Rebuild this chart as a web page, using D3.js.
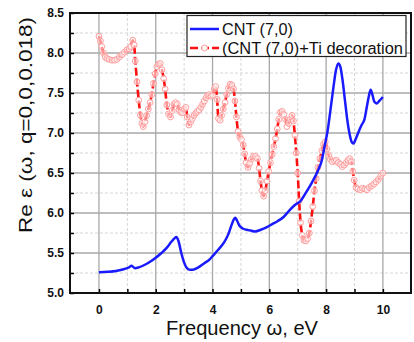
<!DOCTYPE html>
<html><head><meta charset="utf-8">
<script src="https://cdn.jsdelivr.net/npm/d3@7"></script>
<style>body{margin:0;background:#fff}svg{display:block}text{font-family:"Liberation Sans",Arial,sans-serif}</style>
</head><body><svg id="c" width="414" height="342"></svg>
<script>
// Data
const seriesNames = ["CNT (7,0)", "(CNT (7,0)+Ti decoration"];
const cntOmega = [0.00,0.3,0.6,0.9,1.05,1.15,1.27,1.4,1.6,1.8,2.0,2.2,2.4,2.55,2.65,2.73,2.80,2.90,3.00,3.10,3.2,3.3,3.5,3.7,3.9,4.0,4.2,4.4,4.55,4.65,4.75,4.80,4.87,4.95,5.05,5.2,5.35,5.5,5.7,5.9,6.1,6.3,6.5,6.7,6.9,7.1,7.3,7.5,7.7,7.85,7.95,8.05,8.15,8.25,8.35,8.43,8.50,8.58,8.66,8.74,8.82,8.90,8.96,9.05,9.15,9.25,9.35,9.43,9.50,9.57,9.63,9.70,9.78,9.87,10.00];
const cntValues = [5.26,5.265,5.275,5.30,5.32,5.34,5.31,5.32,5.35,5.39,5.44,5.50,5.57,5.64,5.68,5.70,5.65,5.50,5.38,5.31,5.29,5.29,5.32,5.37,5.42,5.46,5.54,5.63,5.73,5.83,5.92,5.94,5.90,5.84,5.81,5.79,5.78,5.77,5.79,5.82,5.86,5.90,5.95,6.03,6.10,6.15,6.26,6.38,6.52,6.66,6.84,7.02,7.28,7.55,7.79,7.87,7.83,7.66,7.42,7.18,7.00,6.89,6.87,6.93,7.02,7.10,7.17,7.32,7.45,7.54,7.48,7.39,7.37,7.40,7.45];
const tiOmega = [0.00,0.05,0.10,0.16,0.22,0.28,0.36,0.46,0.55,0.63,0.72,0.81,0.90,0.99,1.06,1.12,1.19,1.24,1.28,1.34,1.40,1.46,1.51,1.56,1.62,1.68,1.74,1.80,1.86,1.92,1.98,2.04,2.10,2.16,2.22,2.28,2.33,2.39,2.45,2.52,2.58,2.64,2.70,2.76,2.82,2.88,2.94,3.00,3.06,3.11,3.17,3.23,3.29,3.35,3.41,3.47,3.53,3.59,3.65,3.71,3.77,3.83,3.89,3.95,4.01,4.06,4.11,4.16,4.21,4.27,4.32,4.38,4.44,4.50,4.56,4.62,4.68,4.74,4.79,4.84,4.90,4.96,5.02,5.08,5.13,5.18,5.25,5.31,5.37,5.44,5.51,5.58,5.64,5.69,5.74,5.80,5.86,5.92,5.98,6.04,6.10,6.16,6.22,6.28,6.33,6.39,6.45,6.51,6.57,6.62,6.68,6.74,6.80,6.85,6.90,6.95,7.00,7.05,7.10,7.16,7.22,7.28,7.35,7.41,7.47,7.53,7.59,7.65,7.71,7.78,7.85,7.91,7.97,8.03,8.09,8.15,8.22,8.30,8.36,8.43,8.50,8.57,8.64,8.71,8.77,8.83,8.89,8.94,8.99,9.05,9.12,9.20,9.28,9.36,9.44,9.52,9.60,9.68,9.76,9.84,9.92,10.00];
const tiValues = [8.21,8.15,8.08,8.00,7.95,7.93,7.92,7.91,7.91,7.92,7.95,7.98,8.01,8.04,8.05,8.08,8.16,8.10,7.90,7.64,7.41,7.22,7.12,7.08,7.14,7.22,7.30,7.38,7.48,7.62,7.74,7.83,7.86,7.87,7.79,7.68,7.55,7.35,7.24,7.20,7.28,7.36,7.38,7.36,7.29,7.26,7.25,7.30,7.32,7.20,7.10,7.14,7.18,7.22,7.25,7.27,7.29,7.32,7.36,7.40,7.44,7.47,7.48,7.46,7.47,7.55,7.58,7.42,7.18,7.16,7.22,7.30,7.38,7.48,7.56,7.61,7.60,7.55,7.40,7.20,7.02,6.95,6.92,6.85,6.74,6.63,6.57,6.62,6.67,6.71,6.71,6.68,6.56,6.40,6.28,6.21,6.28,6.40,6.52,6.63,6.73,6.83,6.93,7.05,7.17,7.26,7.27,7.23,7.17,7.08,7.12,7.17,7.22,7.15,6.97,6.75,6.50,6.15,5.88,5.72,5.66,5.65,5.68,5.75,5.90,6.08,6.28,6.43,6.57,6.68,6.78,6.86,6.89,6.80,6.72,6.67,6.64,6.65,6.66,6.63,6.61,6.58,6.60,6.63,6.66,6.68,6.64,6.52,6.41,6.32,6.30,6.29,6.31,6.30,6.29,6.32,6.34,6.36,6.39,6.42,6.46,6.50];
const xTicks = [0,2,4,6,8,10];
const xMinorTicks = [1,3,5,7,9];
const yTicks = [5.0,5.5,6.0,6.5,7.0,7.5,8.0,8.5];
const yMinorTicks = [5.25,5.75,6.25,6.75,7.25,7.75,8.25];
const xTitle = "Frequency ω, eV";
const yTitle = "Re ε (ω, q=0,0,0.018)";

const svg = d3.select("#c");
const L = 70, R = 411, T = 13, B = 293;
const x = d3.scaleLinear().domain([-1.02, 10.99]).range([L, R]);
const y = d3.scaleLinear().domain([5.0, 8.5]).range([B, T]);

// grid
const g = svg.append("g");
g.selectAll(".gxm").data(xMinorTicks).join("line")
  .attr("x1", d => x(d)).attr("x2", d => x(d)).attr("y1", T).attr("y2", B)
  .attr("stroke", "#d6d6d6").attr("stroke-width", 1).attr("stroke-dasharray", "3,2");
g.selectAll(".gym").data(yMinorTicks).join("line")
  .attr("y1", d => y(d)).attr("y2", d => y(d)).attr("x1", L).attr("x2", R)
  .attr("stroke", "#d6d6d6").attr("stroke-width", 1).attr("stroke-dasharray", "3,2");
g.selectAll(".gx").data(xTicks).join("line")
  .attr("x1", d => x(d)).attr("x2", d => x(d)).attr("y1", T).attr("y2", B)
  .attr("stroke", "#a8a8a8").attr("stroke-width", 1.3);
g.selectAll(".gy").data(yTicks).join("line")
  .attr("y1", d => y(d)).attr("y2", d => y(d)).attr("x1", L).attr("x2", R)
  .attr("stroke", "#a8a8a8").attr("stroke-width", 1.3);

// axes
const xAxis = d3.axisBottom(x).tickValues(xTicks.concat(xMinorTicks).sort((a,b)=>a-b))
  .tickSizeInner(-4).tickSizeOuter(0).tickFormat(d => xTicks.includes(d) ? d3.format("d")(d) : "");
const ax = svg.append("g").attr("transform", `translate(0,${B})`).call(xAxis);
ax.select(".domain").remove();
ax.selectAll("line").attr("stroke", "#000").attr("stroke-width", 1.5);
ax.selectAll("text").attr("y", 12).attr("font-size", 12).attr("font-weight", "bold").attr("fill", "#111")
  .style("font-family", "'Liberation Sans',Arial,sans-serif");

const yAxis = d3.axisLeft(y).tickValues(yTicks.concat(yMinorTicks).sort((a,b)=>a-b))
  .tickSizeInner(-4).tickSizeOuter(0).tickFormat(d => yTicks.includes(d) ? d3.format(".1f")(d) : "");
const ay = svg.append("g").attr("transform", `translate(${L},0)`).call(yAxis);
ay.select(".domain").remove();
ay.selectAll("line").attr("stroke", "#000").attr("stroke-width", 1.5);
ay.selectAll("text").attr("x", -6).attr("font-size", 12).attr("font-weight", "bold").attr("fill", "#111")
  .style("font-family", "'Liberation Sans',Arial,sans-serif");

// series
const cnt = cntOmega.map((w, i) => [w, cntValues[i]]);
const ti = tiOmega.map((w, i) => [w, tiValues[i]]);
const line = d3.line().x(d => x(d[0])).y(d => y(d[1])).curve(d3.curveMonotoneX);

svg.append("path").datum(ti).attr("d", line).attr("fill", "none")
  .attr("stroke", "#ff1010").attr("stroke-width", 2.6).attr("stroke-dasharray", "8,3");
svg.append("g").selectAll("circle").data(ti).join("circle")
  .attr("cx", d => x(d[0])).attr("cy", d => y(d[1])).attr("r", 2.9)
  .attr("fill", "rgba(255,255,255,0.55)").attr("stroke", "#ff9c9c").attr("stroke-width", 1);
svg.append("path").datum(cnt).attr("d", line).attr("fill", "none")
  .attr("stroke", "#1a1aff").attr("stroke-width", 2.5);

// frame
svg.append("rect").attr("x", L).attr("y", T).attr("width", R - L).attr("height", B - T)
  .attr("fill", "none").attr("stroke", "#111").attr("stroke-width", 2);

// legend
const legendWidths = [71, 181];
const lg = svg.append("g");
lg.append("rect").attr("x", 187).attr("y", 15.5).attr("width", 219).attr("height", 41)
  .attr("fill", "#fff").attr("stroke", "#222").attr("stroke-width", 1.2);
lg.append("line").attr("x1", 190).attr("x2", 219).attr("y1", 29).attr("y2", 29)
  .attr("stroke", "#1a1aff").attr("stroke-width", 2.5);
lg.append("line").attr("x1", 190).attr("x2", 219).attr("y1", 48).attr("y2", 48)
  .attr("stroke", "#ff1010").attr("stroke-width", 2.6).attr("stroke-dasharray", "8,3");
lg.append("circle").attr("cx", 204.5).attr("cy", 48).attr("r", 2.9)
  .attr("fill", "#fff").attr("stroke", "#ff9c9c").attr("stroke-width", 1);
lg.selectAll("text.lt").data(seriesNames).join("text")
  .attr("x", 222).attr("y", (d, i) => 34.5 + i * 19.5).attr("font-size", 16).attr("fill", "#111")
  .attr("textLength", (d, i) => legendWidths[i]).attr("lengthAdjust", "spacingAndGlyphs")
  .text(d => d);

// titles
svg.append("text").attr("x", 242).attr("y", 335).attr("text-anchor", "middle")
  .attr("font-size", 20).attr("fill", "#111").attr("textLength", 152).attr("lengthAdjust", "spacingAndGlyphs")
  .text(xTitle);
svg.append("text").attr("transform", "translate(32,125) rotate(-90)").attr("text-anchor", "middle")
  .attr("font-size", 19).attr("fill", "#111").attr("textLength", 216).attr("lengthAdjust", "spacingAndGlyphs")
  .text(yTitle);
</script></body></html>
